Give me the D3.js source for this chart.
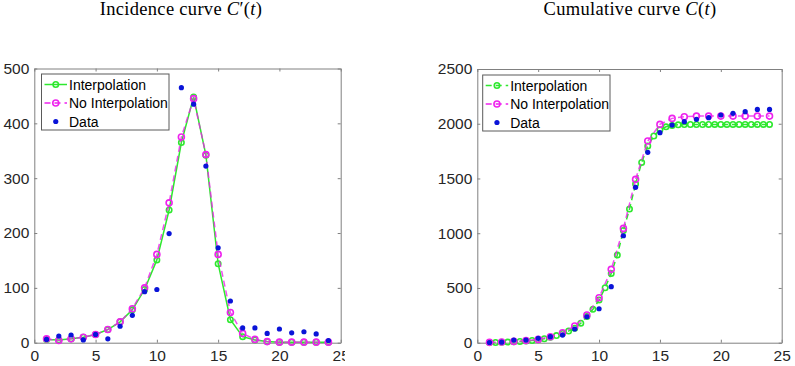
<!DOCTYPE html>
<html><head><meta charset="utf-8">
<script src="https://cdn.jsdelivr.net/npm/d3@7"></script>
<style>body{margin:0;background:#fff}svg{display:block}</style>
</head><body>
<svg id="c" width="795" height="366"></svg>
<script>
// ---------- data ----------
const days = [1,2,3,4,5,6,7,8,9,10,11,12,13,14,15,16,17,18,19,20,21,22,23,24];
const incInterp   = [6,5,7,10,15,24,38,60,97,151,242,365,448,342,144,42,11,5,2,1,1,1,1,1];
const incNoInterp = [7,4,7,10,15,24,38,62,100,161,255,375,445,343,161,55,17,6,2,1,1,1,1,1];
const incData     = [6,12,14,5,15,7,30,50,93,97,199,465,435,322,173,76,27,27,17,25,18,20,16,4];

const halfDays = [1,1.5,2,2.5,3,3.5,4,4.5,5,5.5,6,6.5,7,7.5,8,8.5,9,9.5,10,10.5,11,11.5,12,12.5,
  13,13.5,14,14.5,15,15.5,16,16.5,17,17.5,18,18.5,19,19.5,20,20.5,21,21.5,22,22.5,23,23.5,24];
const cumInterp = [1,2,4,6,9,11,16,20,26,36,50,65,84,107,133,178,240,305,390,502,633,800,1025,1221,
  1450,1647,1797,1888,1945,1972,1985,1990,1992,1993,1993,1993,1994,1994,1994,1994,1994,1994,1994,1994,1994,1994,1994];
const cumNoInterp = [3,6,12,20,30,55,91,152,253,411,670,1044,1492,1842,1994,2049,2064,2070,2070,2070,2070,2070,2070,2070];
const cumData     = [2,5,24,24,40,55,70,125,237,310,512,977,1419,1739,1918,1988,2019,2040,2055,2080,2095,2110,2131,2131];

const xTicks = [0,5,10,15,20,25];
const yTicksInc = [0,100,200,300,400,500];
const yTicksCum = [0,500,1000,1500,2000,2500];
const legendLabels = ["Interpolation","No Interpolation","Data"];

// ---------- styles ----------
const GREEN = "#2ee82e", MAG = "#ee22ee", BLUE = "#0a14d8", AX = "#808080", TXT = "#262626";
const svg = d3.select("#c");
const defs = svg.append("defs");
defs.append("clipPath").attr("id","clipL").append("rect").attr("x",0).attr("y",0).attr("width",345).attr("height",366);
const fmt = d3.format("d");

function panel(opt){
  const g = svg.append("g");
  if (opt.clip) g.attr("clip-path","url(#"+opt.clip+")");
  const x = d3.scaleLinear().domain([0,25]).range(opt.xr);
  const y = d3.scaleLinear().domain(opt.yd).range(opt.yr);
  const [x0,x1] = opt.xr, [y0,y1] = opt.yr;
  const tl = 3;
  const ax = g.append("g");
  ax.append("g").attr("transform",`translate(0,${y0})`)
    .call(d3.axisBottom(x).tickValues(xTicks).tickFormat(fmt).tickSizeInner(-tl).tickSizeOuter(0).tickPadding(7));
  ax.append("g").attr("transform",`translate(0,${y1})`)
    .call(d3.axisTop(x).tickValues(xTicks).tickSizeInner(-tl).tickSizeOuter(0).tickFormat(""));
  ax.append("g").attr("transform",`translate(${x0},0)`)
    .call(d3.axisLeft(y).tickValues(opt.yt).tickFormat(fmt).tickSizeInner(-tl).tickSizeOuter(0).tickPadding(5));
  ax.append("g").attr("transform",`translate(${x1},0)`)
    .call(d3.axisRight(y).tickValues(opt.yt).tickSizeInner(-tl).tickSizeOuter(0).tickFormat(""));
  ax.selectAll(".domain").attr("stroke",AX).attr("stroke-width",1);
  ax.selectAll(".tick line").attr("stroke",AX);
  ax.selectAll(".tick text").attr("fill",TXT).style("font-family","'Liberation Sans',Arial,sans-serif").style("font-size","15.5px");

  const plot = g.append("g");
  const line = (xs,ys)=> d3.line().x((d,i)=>x(xs[i])).y(d=>y(d))(ys);
  plot.append("path").attr("d",line(opt.gx,opt.gy)).attr("fill","none").attr("stroke",GREEN)
    .attr("stroke-width",1.5).attr("stroke-dasharray",opt.gDash||null);
  plot.selectAll(".gm").data(opt.gy).join("circle").attr("cx",(d,i)=>x(opt.gx[i])).attr("cy",d=>y(d))
    .attr("r",2.7).attr("fill","none").attr("stroke",GREEN).attr("stroke-width",1.6);
  plot.append("path").attr("d",line(days,opt.my)).attr("fill","none").attr("stroke",MAG)
    .attr("stroke-width",1.5).attr("stroke-dasharray","6,4").attr("stroke-opacity",0.8);
  plot.selectAll(".mm").data(opt.my).join("circle").attr("cx",(d,i)=>x(days[i])).attr("cy",d=>y(d))
    .attr("r",3).attr("fill","none").attr("stroke",MAG).attr("stroke-width",1.6);
  plot.selectAll(".dm").data(opt.dy).join("circle").attr("cx",(d,i)=>x(days[i])).attr("cy",d=>y(d))
    .attr("r",2.6).attr("fill",BLUE);

  svg.append("text").attr("x",opt.tx).attr("y",15).attr("text-anchor","middle")
    .style("font-family","'Liberation Serif','DejaVu Serif',serif").style("font-size","18.5px")
    .style("letter-spacing","0.3px").attr("fill","#000")
    .html(opt.title);

  const L = opt.leg;
  const lg = svg.append("g");
  lg.append("rect").attr("x",L.x).attr("y",L.y).attr("width",L.w).attr("height",L.h)
    .attr("fill","#fff").attr("stroke","#5a5a5a").attr("stroke-width",1);
  const rows = [L.y+10.5, L.y+29, L.y+47.5];
  const sx0 = L.x+3, sx1 = L.x+25.5, smid = (sx0+sx1)/2;
  lg.append("line").attr("x1",sx0).attr("x2",sx1).attr("y1",rows[0]).attr("y2",rows[0])
    .attr("stroke",GREEN).attr("stroke-width",1.5).attr("stroke-dasharray",opt.gDash||null);
  lg.append("circle").attr("cx",smid).attr("cy",rows[0]).attr("r",2.7).attr("fill","none").attr("stroke",GREEN).attr("stroke-width",1.6);
  lg.append("line").attr("x1",sx0).attr("x2",sx1).attr("y1",rows[1]).attr("y2",rows[1])
    .attr("stroke",MAG).attr("stroke-width",1.5).attr("stroke-dasharray","6,4");
  lg.append("circle").attr("cx",smid).attr("cy",rows[1]).attr("r",3).attr("fill","none").attr("stroke",MAG).attr("stroke-width",1.6);
  lg.append("circle").attr("cx",smid).attr("cy",rows[2]).attr("r",2.6).attr("fill",BLUE);
  legendLabels.forEach((t,i)=>{
    lg.append("text").attr("x",L.x+27.5).attr("y",rows[i]).attr("dy","0.36em").text(t)
      .style("font-family","'Liberation Sans',Arial,sans-serif").style("font-size","14px").attr("fill","#000");
  });
}

panel({xr:[34.3,340.7], yd:[0,500], yr:[342.7,68.5], yt:yTicksInc,
  gx:days, gy:incInterp, my:incNoInterp, dy:incData, clip:"clipL",
  title:"Incidence curve <tspan font-style='italic'>C</tspan>′(<tspan font-style='italic'>t</tspan>)", tx:181,
  leg:{x:41.5,y:74,w:127.5,h:56}});
panel({xr:[477.3,781.7], yd:[0,2500], yr:[342.7,69], yt:yTicksCum,
  gx:halfDays, gy:cumInterp, my:cumNoInterp, dy:cumData, gDash:"6,4",
  title:"Cumulative curve <tspan font-style='italic'>C</tspan>(<tspan font-style='italic'>t</tspan>)", tx:630,
  leg:{x:482.7,y:75,w:127.3,h:56}});
</script>
</body></html>
